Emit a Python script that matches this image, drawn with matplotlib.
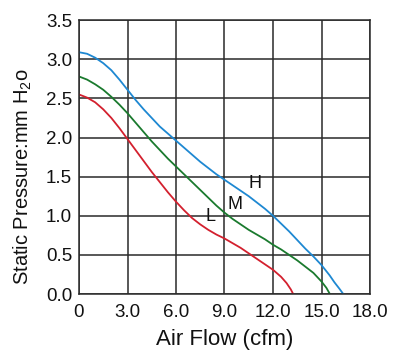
import matplotlib
matplotlib.use("Agg")
import matplotlib.pyplot as plt

plt.rcParams['font.family'] = ['Liberation Sans', 'DejaVu Sans']
plt.rcParams['mathtext.fontset'] = 'custom'
plt.rcParams['mathtext.rm'] = 'Liberation Sans'

# Curve H (blue)
h_x = [0, 0.5, 1, 1.5, 2, 2.5, 3, 3.5, 4, 4.5, 5, 5.5, 6, 6.5, 7, 7.5, 8, 8.5, 9, 9.5,
       10, 10.5, 11, 11.5, 12, 12.5, 13, 13.5, 14, 14.5, 15, 15.5, 15.8, 16.1, 16.35]
h_y = [3.09, 3.07, 3.02, 2.95, 2.86, 2.74, 2.61, 2.48, 2.36, 2.25, 2.14, 2.05, 1.96, 1.87,
       1.78, 1.69, 1.61, 1.53, 1.46, 1.39, 1.32, 1.25, 1.17, 1.09, 1.00, 0.90, 0.80, 0.69,
       0.58, 0.48, 0.37, 0.24, 0.15, 0.07, 0.0]
# Curve M (green)
m_x = [0, 0.5, 1, 1.5, 2, 2.5, 3, 3.5, 4, 4.5, 5, 5.5, 6, 6.5, 7, 7.5, 8, 8.5, 9, 9.5,
       10, 10.5, 11, 11.5, 12, 12.5, 13, 13.5, 14, 14.5, 15, 15.3, 15.52]
m_y = [2.78, 2.74, 2.68, 2.61, 2.52, 2.42, 2.31, 2.19, 2.07, 1.95, 1.84, 1.73, 1.63, 1.53,
       1.43, 1.33, 1.23, 1.13, 1.04, 0.96, 0.89, 0.82, 0.76, 0.70, 0.63, 0.57, 0.50, 0.43,
       0.35, 0.27, 0.16, 0.08, 0.0]
# Curve L (red)
l_x = [0, 0.5, 1, 1.5, 2, 2.5, 3, 3.5, 4, 4.5, 5, 5.5, 6, 6.5, 7, 7.5, 8, 8.5, 9, 9.5,
       10, 10.5, 11, 11.5, 12, 12.5, 12.84, 13.1, 13.25]
l_y = [2.55, 2.51, 2.45, 2.36, 2.25, 2.12, 1.98, 1.84, 1.70, 1.56, 1.43, 1.30, 1.18, 1.07,
       0.97, 0.89, 0.82, 0.76, 0.71, 0.65, 0.59, 0.52, 0.45, 0.38, 0.31, 0.22, 0.14, 0.06, 0.0]

x_ticks = [0, 3, 6, 9, 12, 15, 18]
x_tick_labels = ['0', '3.0', '6.0', '9.0', '12.0', '15.0', '18.0']
y_ticks = [0, 0.5, 1.0, 1.5, 2.0, 2.5, 3.0, 3.5]
y_tick_labels = ['0.0', '0.5', '1.0', '1.5', '2.0', '2.5', '3.0', '3.5']

labels = ['H', 'M', 'L']
label_x = [10.88, 9.62, 8.16]
label_y = [1.41, 1.14, 0.99]

fig = plt.figure(figsize=(4.0, 3.53), dpi=100)
ax = fig.add_axes([0.1975, 0.167, 0.7275, 0.776])

grid_c = '#2a2a2a'
ax.plot(h_x, h_y, color='#1e88d2', lw=1.3)
ax.plot(m_x, m_y, color='#1a7a2e', lw=1.3)
ax.plot(l_x, l_y, color='#d3202e', lw=1.3)

for t, x, y in zip(labels, label_x, label_y):
    ax.text(x, y, t, fontsize=13, ha='center', va='center', color='#111111')

ax.set_xlim(0, 18)
ax.set_ylim(0, 3.5)
ax.set_xticks(x_ticks)
ax.set_xticklabels(x_tick_labels)
ax.set_yticks(y_ticks)
ax.set_yticklabels(y_tick_labels)
ax.tick_params(length=0, labelsize=13.5, colors='#111111')
ax.tick_params(axis='x', pad=7)
ax.tick_params(axis='y', pad=5)
ax.grid(True, color=grid_c, lw=1.1)
for s in ax.spines.values():
    s.set_color(grid_c)
    s.set_linewidth(1.1)

fig.text(225 / 400, 1 - 339 / 353, 'Air Flow (cfm)', fontsize=16,
         ha='center', va='center', color='#111111')
fig.text(23 / 400, 1 - 177 / 353, r'Static Pressure:mm H$_{\mathregular{2}}$o',
         fontsize=14.5, rotation=90, ha='center', va='center', color='#111111')

fig.savefig('out.png', dpi=100)
